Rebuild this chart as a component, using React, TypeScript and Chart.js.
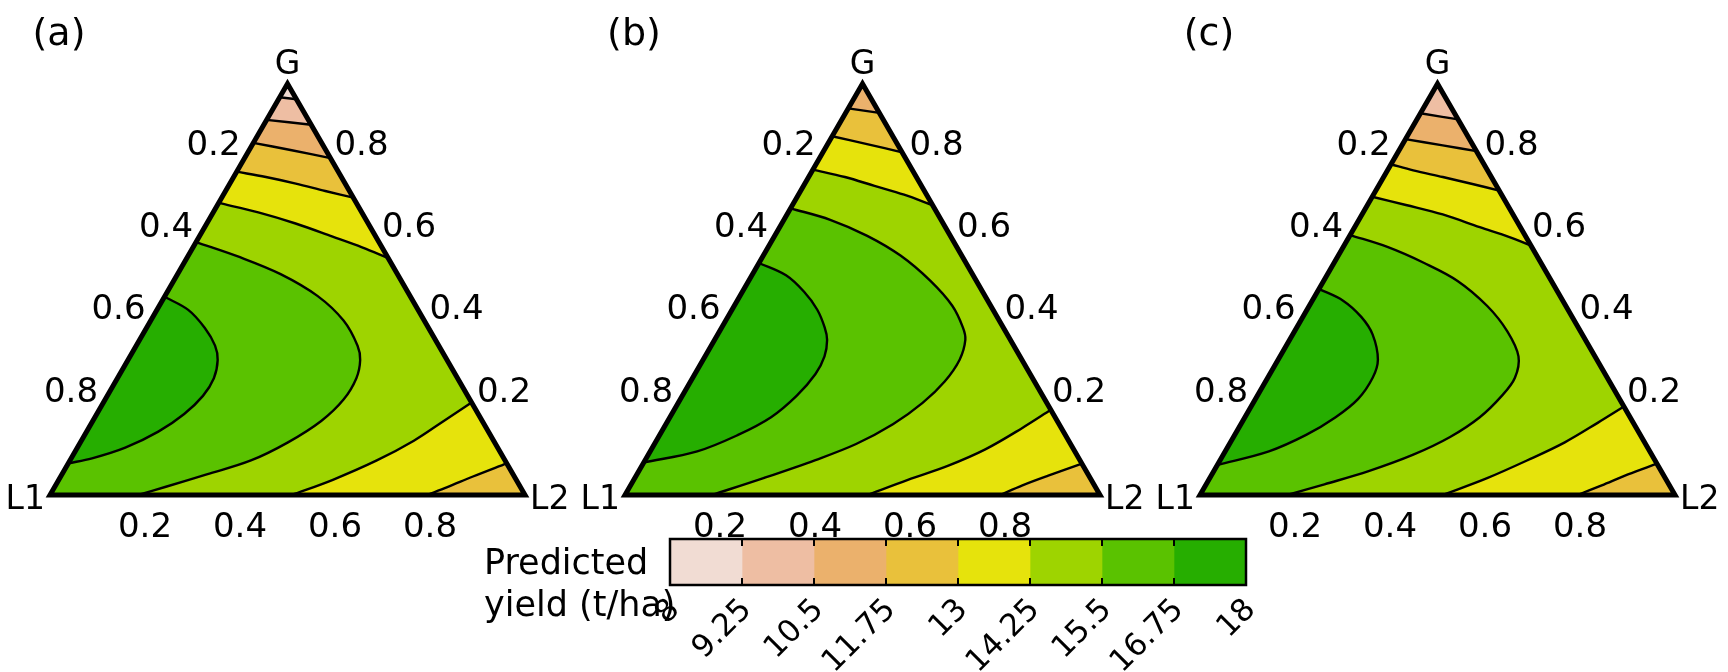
import React, { useEffect, useRef } from 'react';
import { Chart, registerables } from 'chart.js';

Chart.register(...registerables);

const FONT_FAMILY = '"DejaVu Sans", "Liberation Sans", sans-serif';

// ---- colour scale: predicted yield (t/ha) ----
const yieldBreaks = [8, 9.25, 10.5, 11.75, 13, 14.25, 15.5, 16.75, 18];
const yieldBreakLabels = ['8', '9.25', '10.5', '11.75', '13', '14.25', '15.5', '16.75', '18'];
const yieldColors = ['#f1dcd3', '#eebea3', '#ebb16c', '#e9c13b', '#e6e30c', '#9ed400', '#5ac200', '#26ae00'];
const legendTitle = ['Predicted', 'yield (t/ha)'];

// ---- ternary axes ----
const axisTickValues = [0.2, 0.4, 0.6, 0.8];
const axisTickLabels = ['0.2', '0.4', '0.6', '0.8'];
const vertexLabels = { G: 'G', L1: 'L1', L2: 'L2' };
const panelLabels = ['(a)', '(b)', '(c)'];

// ---- contour lines, as [L2, G] compositions (L1 = 1 - L2 - G) ----
// panel (a)
const A_925 = [[0, 0.967], [0.038, 0.962]];
const A_1050 = [[0, 0.912], [0.1, 0.9]];
const A_1175 = [[0, 0.856], [0.09, 0.838], [0.181, 0.819]];
const A_1300 = [[0, 0.786], [0.068, 0.773], [0.139, 0.757], [0.21, 0.739], [0.277, 0.723]];
const A_1300_corner = [[0.923, 0.077], [0.868, 0.045], [0.827, 0.019], [0.794, 0]];
const A_1425 = [[0, 0.71], [0.095, 0.687], [0.187, 0.66], [0.281, 0.628], [0.356, 0.602], [0.424, 0.576]];
const A_1425_corner = [[0.775, 0.225], [0.739, 0.18], [0.7, 0.132], [0.646, 0.084], [0.577, 0.037], [0.509, 0]];
const A_1550 = [[0, 0.615], [0.111, 0.578], [0.217, 0.537], [0.321, 0.484], [0.406, 0.424], [0.466, 0.363], [0.489, 0.328], [0.503, 0.284], [0.502, 0.232], [0.481, 0.18], [0.437, 0.128], [0.381, 0.084], [0.305, 0.05], [0.234, 0.02], [0.186, 0]];
const A_1675 = [[0, 0.482], [0.066, 0.45], [0.123, 0.406], [0.166, 0.363], [0.189, 0.328], [0.203, 0.284], [0.2015, 0.241], [0.184, 0.197], [0.151, 0.154], [0.101, 0.115], [0.044, 0.089], [0, 0.077]];

// panel (b)
const B_1175 = [[0, 0.94], [0.071, 0.929]];
const B_1300 = [[0, 0.872], [0.083, 0.853], [0.167, 0.833]];
const B_1300_corner = [[0.924, 0.076], [0.8675, 0.047], [0.825, 0.0235], [0.79, 0]];
const B_1425 = [[0, 0.791], [0.0765, 0.773], [0.1495, 0.7515], [0.2226, 0.73], [0.296, 0.704]];
const B_1425_corner = [[0.793, 0.207], [0.755, 0.163], [0.703, 0.111], [0.645, 0.0715], [0.577, 0.037], [0.51, 0]];
const B_1550 = [[0, 0.697], [0.0975, 0.669], [0.195, 0.63], [0.289, 0.582], [0.382, 0.521], [0.459, 0.46], [0.508, 0.407], [0.528, 0.377], [0.54, 0.329], [0.535, 0.276], [0.5145, 0.224], [0.478, 0.172], [0.4245, 0.124], [0.3585, 0.085], [0.271, 0.041], [0.183, 0]];
const B_1675 = [[0, 0.564], [0.072, 0.534], [0.13, 0.494], [0.179, 0.451], [0.217, 0.407], [0.237, 0.377], [0.2515, 0.337], [0.254, 0.294], [0.241, 0.2415], [0.213, 0.189], [0.165, 0.146], [0.099, 0.106], [0, 0.079]];

// panel (c)
const C_1050 = [[0, 0.928], [0.087, 0.913]];
const C_1175 = [[0, 0.865], [0.086, 0.85], [0.164, 0.836]];
const C_1300 = [[0, 0.804], [0.0545, 0.789], [0.1246, 0.773], [0.1955, 0.756], [0.26, 0.74]];
const C_1300_corner = [[0.924, 0.076], [0.876, 0.05], [0.834, 0.0235], [0.795, 0]];
const C_1425 = [[0, 0.725], [0.081, 0.705], [0.17, 0.682], [0.2635, 0.651], [0.338, 0.627], [0.394, 0.606]];
const C_1425_corner = [[0.785, 0.215], [0.75, 0.176], [0.704, 0.128], [0.648, 0.085], [0.584, 0.041], [0.511, 0]];
const C_1550 = [[0, 0.632], [0.093, 0.603], [0.19, 0.564], [0.282, 0.5205], [0.375, 0.4595], [0.448, 0.398], [0.502, 0.337], [0.5205, 0.285], [0.515, 0.2415], [0.4945, 0.189], [0.456, 0.141], [0.4, 0.098], [0.326, 0.058], [0.249, 0.026], [0.184, 0]];
const C_1675 = [[0, 0.501], [0.065, 0.4725], [0.123, 0.433], [0.1685, 0.39], [0.21, 0.329], [0.221, 0.285], [0.216, 0.233], [0.191, 0.189], [0.1505, 0.146], [0.092, 0.106], [0, 0.073]];

type Pair = number[];
type Piece = Pair[] | 'L1' | 'L2' | 'G';
interface Layer { color: number; pieces: Piece[] }
interface Panel { label: string; baseColor: number; layers: Layer[]; lines: Pair[][] }

const panels: Panel[] = [
  {
    label: panelLabels[0],
    baseColor: 0,
    layers: [
      { color: 1, pieces: [A_925, 'L2', 'L1'] },
      { color: 2, pieces: [A_1050, 'L2', 'L1'] },
      { color: 3, pieces: [A_1175, 'L2', 'L1'] },
      { color: 4, pieces: [A_1300, A_1300_corner, 'L1'] },
      { color: 5, pieces: [A_1425, A_1425_corner, 'L1'] },
      { color: 6, pieces: [A_1550, 'L1'] },
      { color: 7, pieces: [A_1675] },
    ],
    lines: [A_925, A_1050, A_1175, A_1300, A_1300_corner, A_1425, A_1425_corner, A_1550, A_1675],
  },
  {
    label: panelLabels[1],
    baseColor: 2,
    layers: [
      { color: 3, pieces: [B_1175, 'L2', 'L1'] },
      { color: 4, pieces: [B_1300, B_1300_corner, 'L1'] },
      { color: 5, pieces: [B_1425, B_1425_corner, 'L1'] },
      { color: 6, pieces: [B_1550, 'L1'] },
      { color: 7, pieces: [B_1675] },
    ],
    lines: [B_1175, B_1300, B_1300_corner, B_1425, B_1425_corner, B_1550, B_1675],
  },
  {
    label: panelLabels[2],
    baseColor: 1,
    layers: [
      { color: 2, pieces: [C_1050, 'L2', 'L1'] },
      { color: 3, pieces: [C_1175, 'L2', 'L1'] },
      { color: 4, pieces: [C_1300, C_1300_corner, 'L1'] },
      { color: 5, pieces: [C_1425, C_1425_corner, 'L1'] },
      { color: 6, pieces: [C_1550, 'L1'] },
      { color: 7, pieces: [C_1675] },
    ],
    lines: [C_1050, C_1175, C_1300, C_1300_corner, C_1425, C_1425_corner, C_1550, C_1675],
  },
];

const corners: Record<string, Pair> = { L1: [0, 0], L2: [1, 0], G: [0, 1] };
const SQ3 = Math.sqrt(3) / 2;
const toXY = (p: Pair) => ({ x: p[0] + p[1] / 2, y: p[1] * SQ3 });

// joins pieces, doubling every junction point so the curve pieces keep the
// exact shape of the stand-alone contour lines and the edges stay straight
function polygon(pieces: Piece[]) {
  const out: Pair[] = [];
  pieces.forEach((p) => {
    const pts = typeof p === 'string' ? [corners[p]] : p;
    if (pts.length === 1) {
      out.push(pts[0], pts[0]);
    } else {
      out.push(pts[0], ...pts, pts[pts.length - 1]);
    }
  });
  return out.map(toXY);
}

const TENSION = 0.35;
const PANEL_W = 575;
const PANEL_H = 672;
const PX_PER_UNIT = 475;
const ORIGIN_X = 50;
const ORIGIN_Y = 495;

function ternaryConfig(panel: Panel): any {
  const datasets: any[] = [];
  datasets.push({
    data: polygon(['L1', 'L2', 'G']),
    backgroundColor: yieldColors[panel.baseColor],
    borderWidth: 0,
    fill: 'shape',
    pointRadius: 0,
    tension: 0,
    order: 60,
  });
  panel.layers.forEach((layer, i) => {
    datasets.push({
      data: polygon(layer.pieces),
      backgroundColor: yieldColors[layer.color],
      borderWidth: 0,
      fill: 'shape',
      pointRadius: 0,
      tension: TENSION,
      order: 50 - i,
    });
  });
  panel.lines.forEach((line) => {
    datasets.push({
      data: line.map(toXY),
      borderColor: '#000',
      borderWidth: 2.4,
      fill: false,
      pointRadius: 0,
      tension: TENSION,
      order: 5,
    });
  });
  datasets.push({
    data: [corners.L1, corners.L2, corners.G, corners.L1, corners.L2].map(toXY),
    borderColor: '#000',
    borderWidth: 5,
    borderJoinStyle: 'miter',
    fill: false,
    pointRadius: 0,
    tension: 0,
    order: 1,
  });

  const textPlugin = {
    id: 'ternaryText',
    afterDraw(chart: any) {
      const { ctx } = chart;
      const xs = chart.scales.x;
      const ys = chart.scales.y;
      const P = (L2: number, G: number) => {
        const t = toXY([L2, G]);
        return [xs.getPixelForValue(t.x), ys.getPixelForValue(t.y)];
      };
      ctx.save();
      ctx.fillStyle = '#000';
      ctx.textBaseline = 'middle';
      ctx.textAlign = 'center';
      ctx.font = `34px ${FONT_FAMILY}`;
      axisTickValues.forEach((v, i) => {
        const lab = axisTickLabels[i];
        let [x, y] = P(v, 0);
        ctx.fillText(lab, x, y + 33);
        [x, y] = P(0, 1 - v);
        ctx.fillText(lab, x - 26.5, y - 20);
        [x, y] = P(1 - v, v);
        ctx.fillText(lab, x + 26.5, y - 20);
      });
      ctx.font = `33px ${FONT_FAMILY}`;
      const [gx, gy] = P(0, 1);
      ctx.fillText(vertexLabels.G, gx, gy - 18);
      const [l1x, l1y] = P(0, 0);
      ctx.textAlign = 'right';
      ctx.fillText(vertexLabels.L1, l1x - 5, l1y + 5);
      const [l2x, l2y] = P(1, 0);
      ctx.textAlign = 'left';
      ctx.fillText(vertexLabels.L2, l2x + 5, l2y + 5);
      ctx.textAlign = 'center';
      ctx.font = `38px ${FONT_FAMILY}`;
      ctx.fillText(panel.label, l1x + 9, 35);
      ctx.restore();
    },
  };

  return {
    type: 'line',
    data: { datasets },
    options: {
      animation: false,
      responsive: false,
      maintainAspectRatio: false,
      events: [],
      layout: { padding: 0 },
      plugins: { legend: { display: false }, tooltip: { enabled: false } },
      scales: {
        x: {
          type: 'linear',
          display: false,
          min: -ORIGIN_X / PX_PER_UNIT,
          max: (PANEL_W - ORIGIN_X) / PX_PER_UNIT,
        },
        y: {
          type: 'linear',
          display: false,
          min: (ORIGIN_Y - PANEL_H) / PX_PER_UNIT,
          max: ORIGIN_Y / PX_PER_UNIT,
        },
      },
    },
    plugins: [textPlugin],
  };
}

function TernaryPanel({ panel, left }: { panel: Panel; left: number }) {
  const ref = useRef<HTMLCanvasElement>(null);
  useEffect(() => {
    const chart = new Chart(ref.current as HTMLCanvasElement, ternaryConfig(panel));
    return () => chart.destroy();
  }, [panel]);
  return (
    <canvas
      ref={ref}
      width={PANEL_W}
      height={PANEL_H}
      style={{ position: 'absolute', left, top: 0, width: PANEL_W, height: PANEL_H }}
    />
  );
}

const CB_LEFT = 440;
const CB_TOP = 500;
const CB_W = 860;
const CB_H = 172;

function colorbarConfig(): any {
  const datasets = yieldColors.map((c, i) => ({
    data: [[yieldBreaks[i], yieldBreaks[i + 1]]],
    backgroundColor: c,
    borderWidth: 0,
    barPercentage: 1,
    categoryPercentage: 1,
    grouped: false,
  }));
  const cbPlugin = {
    id: 'colorbarDecor',
    afterDraw(chart: any) {
      const { ctx, chartArea } = chart;
      const xs = chart.scales.x;
      const { left, right, top, bottom } = chartArea;
      ctx.save();
      ctx.strokeStyle = '#000';
      ctx.lineWidth = 2;
      yieldBreaks.slice(1, -1).forEach((v) => {
        const x = xs.getPixelForValue(v);
        ctx.beginPath();
        ctx.moveTo(x, top);
        ctx.lineTo(x, top + 7);
        ctx.moveTo(x, bottom - 7);
        ctx.lineTo(x, bottom);
        ctx.stroke();
      });
      ctx.lineWidth = 2.5;
      ctx.strokeRect(left, top, right - left, bottom - top);
      ctx.fillStyle = '#000';
      ctx.font = `35px ${FONT_FAMILY}`;
      ctx.textAlign = 'left';
      ctx.textBaseline = 'alphabetic';
      ctx.fillText(legendTitle[0], left - 186, bottom - 11);
      ctx.fillText(legendTitle[1], left - 186, bottom + 31);
      ctx.font = `31px ${FONT_FAMILY}`;
      ctx.textAlign = 'right';
      ctx.textBaseline = 'middle';
      yieldBreaks.forEach((v, i) => {
        const x = xs.getPixelForValue(v);
        ctx.save();
        ctx.translate(x + 5, bottom + 20);
        ctx.rotate(-Math.PI / 4);
        ctx.fillText(yieldBreakLabels[i], 0, 0);
        ctx.restore();
      });
      ctx.restore();
    },
  };
  return {
    type: 'bar',
    data: { labels: ['yield'], datasets },
    options: {
      indexAxis: 'y',
      animation: false,
      responsive: false,
      maintainAspectRatio: false,
      events: [],
      layout: { padding: { left: 230, right: 54, top: 39, bottom: 87 } },
      plugins: { legend: { display: false }, tooltip: { enabled: false } },
      scales: {
        x: { type: 'linear', min: yieldBreaks[0], max: yieldBreaks[yieldBreaks.length - 1], display: false },
        y: { display: false },
      },
    },
    plugins: [cbPlugin],
  };
}

function Colorbar() {
  const ref = useRef<HTMLCanvasElement>(null);
  useEffect(() => {
    const chart = new Chart(ref.current as HTMLCanvasElement, colorbarConfig());
    return () => chart.destroy();
  }, []);
  return (
    <canvas
      ref={ref}
      width={CB_W}
      height={CB_H}
      style={{ position: 'absolute', left: CB_LEFT, top: CB_TOP, width: CB_W, height: CB_H }}
    />
  );
}

export default function App() {
  return (
    <div
      style={{
        position: 'absolute',
        left: 0,
        top: 0,
        width: 1728,
        height: 672,
        background: '#fff',
        overflow: 'hidden',
      }}
    >
      {panels.map((p, i) => (
        <TernaryPanel key={p.label} panel={p} left={i * PANEL_W} />
      ))}
      <Colorbar />
    </div>
  );
}
